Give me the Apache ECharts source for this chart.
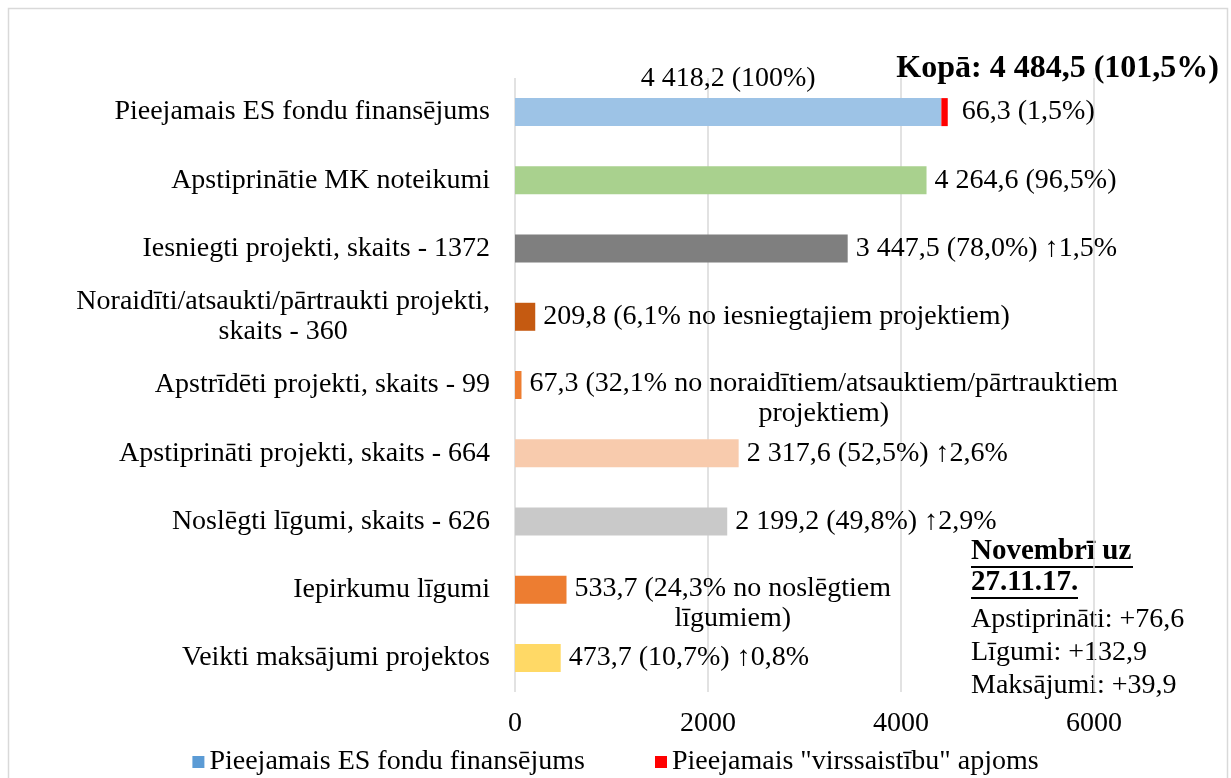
<!DOCTYPE html>
<html>
<head>
<meta charset="utf-8">
<script src="https://cdn.jsdelivr.net/npm/echarts@6/dist/echarts.min.js"></script>
<style>
  html, body { margin: 0; padding: 0; background: #fff; }
  #chart { width: 1231px; height: 778px; }
</style>
</head>
<body>
<div id="chart"></div>
<script>
// kategorijas (no augšas uz leju)
const categories = [
  'Pieejamais ES fondu finansējums',
  'Apstiprinātie MK noteikumi',
  'Iesniegti projekti, skaits - 1372',
  'Noraidīti/atsaukti/pārtraukti projekti,\nskaits - 360',
  'Apstrīdēti projekti, skaits - 99',
  'Apstiprināti projekti, skaits - 664',
  'Noslēgti līgumi, skaits - 626',
  'Iepirkumu līgumi',
  'Veikti maksājumi projektos'
];
// milj. EUR
const esFondi = [4418.2, 4264.6, 3447.5, 209.8, 67.3, 2317.6, 2199.2, 533.7, 473.7];
const virssaistibas = [66.3, null, null, null, null, null, null, null, null];
const esSuffix = [
  ' (100%)',
  ' (96,5%)',
  ' (78,0%) ↑1,5%',
  ' (6,1% no iesniegtajiem projektiem)',
  ' (32,1% no noraidītiem/atsauktiem/pārtrauktiem\nprojektiem)',
  ' (52,5%) ↑2,6%',
  ' (49,8%) ↑2,9%',
  ' (24,3% no noslēgtiem\nlīgumiem)',
  ' (10,7%) ↑0,8%'
];
const virsSuffix = ' (1,5%)';
const barColors = ['#9DC3E6', '#A9D18E', '#7F7F7F', '#C55A11', '#ED7D31', '#F8CBAD', '#C9C9C9', '#ED7D31', '#FFD966'];
const totalText = 'Kopā: 4 484,5 (101,5%)';
const noteTitle = ['Novembrī uz', '27.11.17.'];
const noteLines = ['Apstiprināti: +76,6', 'Līgumi: +132,9', 'Maksājumi: +39,9'];

const FONT = '"Liberation Serif", "Times New Roman", serif';
const FS = 28;

function fmt(v) {
  let s = v.toFixed(1).split('.');
  return s[0].replace(/\B(?=(\d{3})+(?!\d))/g, ' ') + ',' + s[1];
}

function richLabel(text) {
  // katru rindu centrē bloka ietvaros
  return text.split('\n').map(l => '{c|' + l + '}').join('\n');
}

const esData = esFondi.map((v, i) => {
  let item = {
    value: v,
    itemStyle: { color: barColors[i] },
    label: {}
  };
  if (i === 0) {
    item.label = { position: 'top', distance: 4 };
  }
  if (esSuffix[i].indexOf('\n') >= 0) {
    item.label = { offset: [0, 14] };
  }
  return item;
});

const chart = echarts.init(document.getElementById('chart'));
chart.setOption({
  animation: false,
  textStyle: { fontFamily: FONT },
  grid: { left: 515, right: 137, top: 78, bottom: 86, containLabel: false },
  xAxis: {
    type: 'value',
    min: 0,
    max: 6000,
    interval: 2000,
    axisLine: { show: false },
    axisTick: { show: false },
    splitLine: { lineStyle: { color: '#D9D9D9', width: 1.5 } },
    axisLabel: { color: '#000', fontSize: FS, fontFamily: FONT, margin: 18, formatter: v => String(v) }
  },
  yAxis: {
    type: 'category',
    inverse: true,
    data: categories,
    axisLine: { show: false },
    axisTick: { show: false },
    axisLabel: {
      color: '#000', fontSize: FS, fontFamily: FONT, margin: 25,
      align: 'right', lineHeight: 30,
      formatter: v => v.split('\n').map(l => '{c|' + l + '}').join('\n'),
      rich: { c: { align: 'center', fontSize: FS, fontFamily: FONT, color: '#000', lineHeight: 30 } }
    }
  },
  legend: {
    bottom: -3,
    left: 'center',
    itemWidth: 12,
    itemHeight: 12,
    itemGap: 70,
    icon: 'rect',
    textStyle: { color: '#000', fontSize: FS, fontFamily: FONT },
    data: [
      { name: 'Pieejamais ES fondu finansējums', itemStyle: { color: '#5B9BD5' } },
      { name: 'Pieejamais "virssaistību" apjoms', itemStyle: { color: '#FF0000' } }
    ]
  },
  series: [
    {
      name: 'Pieejamais ES fondu finansējums',
      type: 'bar',
      stack: 'kopā',
      barWidth: 28,
      color: '#5B9BD5',
      data: esData,
      label: {
        show: true,
        position: 'right',
        distance: 8,
        color: '#000',
        fontSize: FS,
        fontFamily: FONT,
        formatter: p => richLabel(fmt(p.value) + esSuffix[p.dataIndex]),
        rich: { c: { align: 'center', fontSize: FS, fontFamily: FONT, color: '#000', lineHeight: 30 } }
      }
    },
    {
      name: 'Pieejamais "virssaistību" apjoms',
      type: 'bar',
      stack: 'kopā',
      barWidth: 28,
      color: '#FF0000',
      data: virssaistibas,
      label: {
        show: true,
        position: 'right',
        distance: 14,
        color: '#000',
        fontSize: FS,
        fontFamily: FONT,
        formatter: p => fmt(p.value) + virsSuffix
      }
    }
  ],
  graphic: [
    {
      type: 'rect', left: 6, top: 6, silent: true,
      shape: { width: 1219, height: 790 },
      style: { fill: 'none', stroke: '#D9D9D9', lineWidth: 1.5 }
    },
    {
      type: 'text', right: 12, top: 53,
      style: { text: totalText, font: 'bold 32px ' + FONT, fill: '#000' }
    },
    {
      type: 'text', left: 971, top: 536,
      style: { text: noteTitle.join('\n'), font: 'bold 29px ' + FONT, fill: '#000', lineHeight: 31 }
    },
    { type: 'rect', left: 971, top: 566, shape: { width: 162, height: 2 }, style: { fill: '#000' } },
    { type: 'rect', left: 971, top: 597, shape: { width: 107, height: 2 }, style: { fill: '#000' } },
    {
      type: 'text', left: 971, top: 603,
      style: { text: noteLines.join('\n'), font: FS + 'px ' + FONT, fill: '#000', lineHeight: 33 }
    }
  ]
});
</script>
</body>
</html>
